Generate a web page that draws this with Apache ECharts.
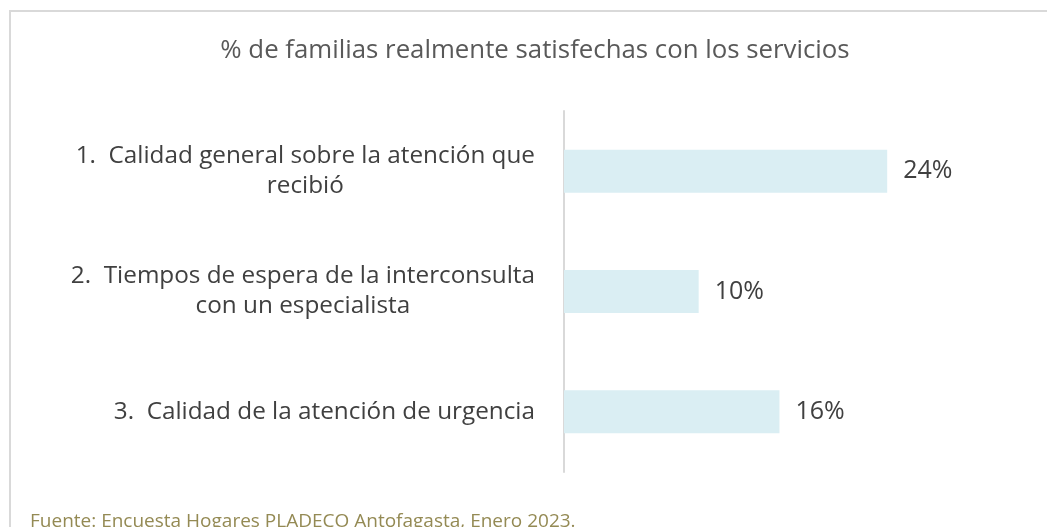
<!DOCTYPE html>
<html>
<head>
<meta charset="utf-8">
<script src="https://cdn.jsdelivr.net/npm/echarts@6/dist/echarts.min.js"></script>
<style>
  html, body { margin: 0; padding: 0; background: #ffffff; }
  #chart { width: 1047px; height: 527px; }
</style>
</head>
<body>
<div id="chart"></div>
<script>
// Satisfaction items (top to bottom) and share of households, in %
const categories = [
  '1.  Calidad general sobre la atención que\nrecibió',
  '2.  Tiempos de espera de la interconsulta\ncon un especialista',
  '3.  Calidad de la atención de urgencia'
];
const satisfied = [24, 10, 16];

const titleText = '% de familias realmente satisfechas con los servicios';
const sourceText = 'Fuente: Encuesta Hogares PLADECO Antofagasta, Enero 2023.';

const FONT = '"Open Sans", Lato, sans-serif';

const chart = echarts.init(document.getElementById('chart'), null, { renderer: 'canvas' });

// First line right-aligned to the axis, following lines centred under it
function labelRich(value) {
  return value.split('\n').map(function (s) { return '{l|' + s + '}'; }).join('\n');
}

chart.setOption({
  backgroundColor: '#ffffff',
  animation: false,
  title: {
    text: titleText,
    left: 530,
    textAlign: 'center',
    top: 33,
    textStyle: { fontFamily: FONT, fontSize: 25.8, fontWeight: 'normal', color: '#595959' }
  },
  graphic: [
    {
      type: 'rect',
      shape: { x: 10, y: 11, width: 1200, height: 700 },
      style: { fill: null, stroke: '#D9D9D9', lineWidth: 2 },
      silent: true
    },
    {
      type: 'text',
      x: 30,
      y: 522,
      style: {
        text: sourceText,
        fontFamily: FONT,
        fontSize: 19,
        fill: '#948A54',
        verticalAlign: 'middle'
      },
      silent: true
    }
  ],
  grid: { left: 564, top: 111, height: 361, right: 79 },
  xAxis: {
    type: 'value',
    min: 0,
    max: 30,
    show: false,
    splitLine: { show: false }
  },
  yAxis: {
    type: 'category',
    inverse: true,
    data: categories,
    axisLine: { show: true, lineStyle: { color: '#D9D9D9', width: 2 } },
    axisTick: { show: false },
    axisLabel: {
      margin: 29,
      align: 'right',
      formatter: labelRich,
      rich: {
        l: { fontFamily: FONT, fontSize: 24.3, color: '#404040', lineHeight: 30, align: 'center' }
      }
    }
  },
  series: [{
    type: 'bar',
    data: satisfied,
    barWidth: 43,
    itemStyle: { color: '#DAEEF3' },
    label: {
      show: true,
      position: 'right',
      distance: 16,
      formatter: '{c}%',
      fontFamily: FONT,
      fontSize: 25,
      color: '#404040'
    }
  }]
});
</script>
</body>
</html>
